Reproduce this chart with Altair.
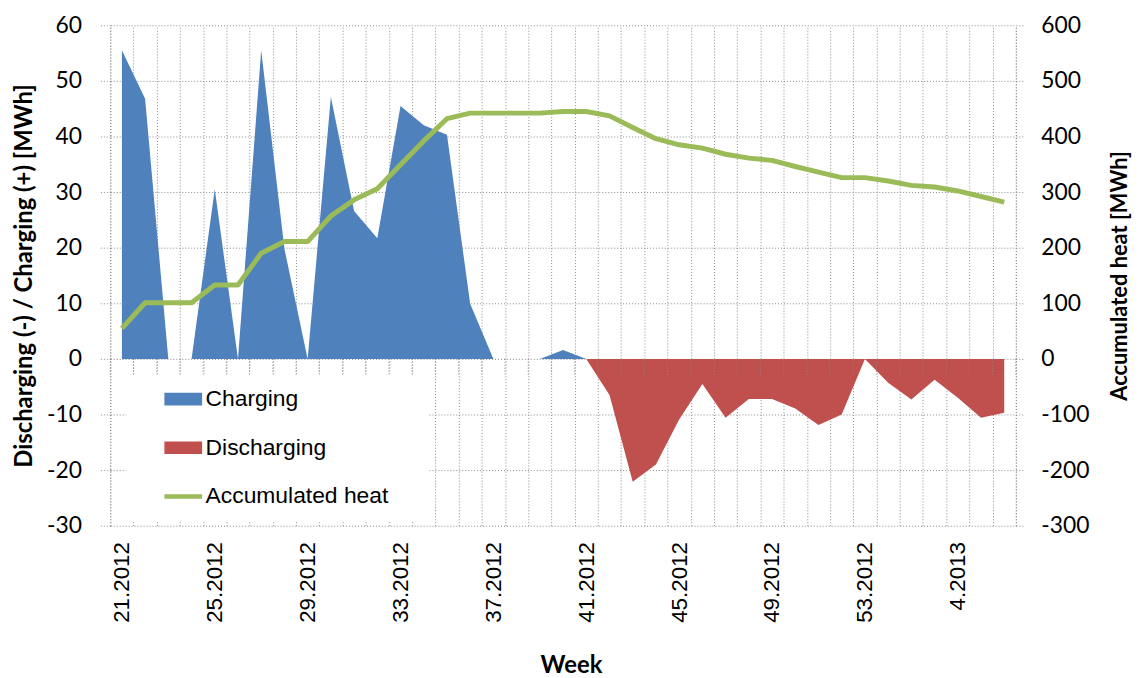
import json
import altair as alt
import pandas as pd

weeks = ["21.2012", "22.2012", "23.2012", "24.2012", "25.2012", "26.2012", "27.2012",
         "28.2012", "29.2012", "30.2012", "31.2012", "32.2012", "33.2012", "34.2012",
         "35.2012", "36.2012", "37.2012", "38.2012", "39.2012", "40.2012", "41.2012",
         "42.2012", "43.2012", "44.2012", "45.2012", "46.2012", "47.2012", "48.2012",
         "49.2012", "50.2012", "51.2012", "52.2012", "53.2012", "1.2013", "2.2013",
         "3.2013", "4.2013", "5.2013", "6.2013"]

charging = [55.5, 46.8, 0, 0, 30.5, 0, 55.5, 19.8, 0, 47.1, 26.6, 21.7, 45.5, 42.0,
            40.3, 9.9, 0, 0, 0, 1.6, 0, 0, 0, 0, 0, 0, 0, 0,
            0, 0, 0, 0, 0, 0, 0, 0, 0, 0, 0]

discharging = [0, 0, 0, 0, 0, 0, 0, 0, 0, 0, 0, 0, 0, 0,
               0, 0, 0, 0, 0, 0, 0, -6.5, -22.1, -19.0, -10.9, -4.5, -10.6, -7.2,
               -7.2, -8.9, -11.9, -10.0, 0, -4.3, -7.3, -3.75, -7.0, -10.6, -9.7]

heat = [55, 101, 101, 101, 133, 133, 190, 211, 211, 257, 286, 306, 349, 392,
        432, 442, 442, 442, 442, 445, 445, 437, 416, 396, 385, 379, 368, 361,
        357, 346, 336, 326, 326, 320, 312, 309, 302, 292, 282]

label_idx = [0, 4, 8, 12, 16, 20, 24, 28, 32, 36]
left_ticks = [-30, -20, -10, 0, 10, 20, 30, 40, 50, 60]
right_ticks = [-300, -200, -100, 0, 100, 200, 300, 400, 500, 600]

series_names = ["Charging", "Discharging", "Accumulated heat"]
series_colors = ["#4F81BD", "#C0504D", "#9BBB59"]

n = len(weeks)
df = pd.DataFrame({"idx": list(range(n)), "week": weeks, "charging": charging,
                   "discharging": discharging, "heat": heat})
bounds = [i - 0.5 for i in range(n + 1)]
bdf = pd.DataFrame({"b": bounds})

GRID = "#8a8a8a"
DASH = [1, 2]
MINUS_FIX = "replace(datum.label, '\u2212', '-')"

xscale = alt.Scale(domain=[-0.5, n - 0.5], nice=False, zero=False)
yscale = alt.Scale(domain=[-30, 60], nice=False, zero=False)
hscale = alt.Scale(domain=[-300, 600], nice=False, zero=False)
cscale = alt.Scale(domain=series_names, range=series_colors)

# legend symbols: wide rectangles for the areas, a thick stroke for the line;
# the extra move-to points only widen the white legend box
RECT = "M-4.3,0M22.4,0M-1.9,-0.64H1.9V0.64H-1.9Z"
LINE = "M-4.3,0M22.4,0M-1.9,0H1.9"

legend = alt.Legend(
    title=None, orient="none", legendX=16, legendY=352,
    fillColor="white", padding=13,
    symbolType=alt.ExprRef(expr=f"datum.value === 'Accumulated heat' ? '{LINE}' : '{RECT}'"),
    symbolSize=400,
    symbolStrokeWidth=alt.ExprRef(expr="datum.value === 'Accumulated heat' ? 4.5 : 0"),
    symbolStrokeColor=alt.ExprRef(expr="datum.value === 'Accumulated heat' ? '#9BBB59' : 'transparent'"),
    symbolOffset=33, labelOffset=11, rowPadding=25,
    labelFont="Liberation Sans", labelFontSize=23, labelColor="black",
    labelLimit=400,
)

x_labels = alt.X("idx:Q", scale=xscale, axis=alt.Axis(
    orient="bottom", values=label_idx, labelExpr=json.dumps(weeks) + "[datum.value]",
    labelAngle=270, grid=False, ticks=False, domain=False, labelPadding=16,
    labelFont="Liberation Sans", labelFontSize=22.5, labelColor="black",
    title="Week", titleFont="Lato", titleFontWeight="bold", titleFontSize=24,
    titleColor="black", titleX=464, titleY=148, titleBaseline="alphabetic",
    titleAnchor="start", titleAlign="center"))

x_grid = alt.X("idx:Q", scale=xscale, axis=alt.Axis(
    orient="top", values=bounds, grid=True, gridColor=GRID, gridDash=DASH,
    labels=False, ticks=False, domain=False, title=None))

y_left = alt.Y("charging:Q", scale=yscale, axis=alt.Axis(
    orient="left", values=left_ticks, grid=True, gridColor=GRID, gridDash=DASH,
    domain=True, domainColor=GRID, domainDash=DASH, ticks=True, tickSize=10,
    tickColor=GRID, tickDash=DASH, labelPadding=19, labelFont="Lato",
    labelFontSize=23, labelColor="black", labelExpr=MINUS_FIX,
    title="Discharging (-) / Charging (+) [MWh]", titleFont="Lato",
    titleFontWeight="bold", titleFontSize=24, titleColor="black", titleAngle=270,
    titleX=-86, titleY=252, titleBaseline="middle", titleAlign="center"))

base = alt.Chart(df)

charge_area = base.transform_calculate(series="'Charging'").mark_area(opacity=1).encode(
    x=x_labels, y=y_left,
    color=alt.Color("series:N", scale=cscale, legend=legend))

discharge_area = base.transform_calculate(series="'Discharging'").mark_area(opacity=1).encode(
    x=x_grid, y=alt.Y("discharging:Q", scale=yscale, axis=None),
    color=alt.Color("series:N", scale=cscale, legend=None))

zero_ticks = alt.Chart(bdf).mark_rule(color=GRID, strokeDash=DASH, strokeWidth=1).encode(
    x=alt.X("b:Q", scale=xscale, axis=None),
    y=alt.YDatum(0, scale=yscale, axis=None),
    y2=alt.Y2Datum(-2.8))

heat_line = base.transform_calculate(series="'Accumulated heat'").mark_line(
    strokeWidth=5, strokeJoin="round").encode(
    x=alt.X("idx:Q", scale=xscale, axis=None),
    y=alt.Y("heat:Q", scale=hscale, axis=alt.Axis(
        orient="right", values=right_ticks, grid=False, domain=True,
        domainColor=GRID, domainDash=DASH, ticks=True, tickSize=9,
        tickColor=GRID, tickDash=DASH, labelPadding=16, labelFont="Lato",
        labelFontSize=23, labelColor="black", labelExpr=MINUS_FIX,
        title="Accumulated heat [MWh]", titleFont="Lato", titleFontWeight="bold",
        titleFontSize=22, titleColor="black", titleAngle=270, titleX=104,
        titleY=252, titleBaseline="middle", titleAlign="center")),
    color=alt.Color("series:N", scale=cscale, legend=None))

chart = alt.layer(charge_area, discharge_area, zero_ticks, heat_line).resolve_scale(
    y="independent").properties(
    width=912, height=504,
    autosize=alt.AutoSizeParams(type="none"),
    padding={"left": 103, "top": 15, "right": 120, "bottom": 151},
    background="white",
).configure_view(stroke=None)

chart.save("out.html", embed_options={"renderer": "svg", "actions": False})
